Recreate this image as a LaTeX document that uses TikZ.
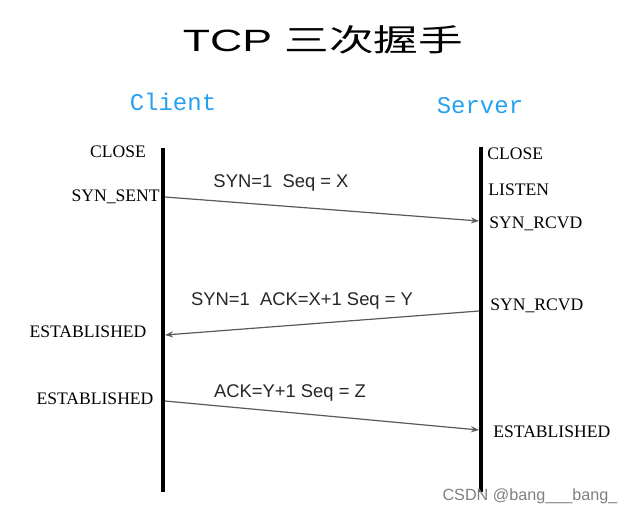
\documentclass[tikz,border=0pt]{standalone}
\usepackage{fontspec}
\setmainfont{Liberation Serif}
\setsansfont{Liberation Sans}
\setmonofont{Liberation Mono}
\newfontfamily\cjk{Noto Sans CJK SC}
\usetikzlibrary{arrows.meta}
\definecolor{hostblue}{RGB}{40,160,240}

\begin{document}
\begin{tikzpicture}[x=0.5pt,y=-0.5pt,
  heading/.style={font=\sffamily\fontsize{15.4}{17}\selectfont, inner sep=0pt},
  host/.style={font=\ttfamily\fontsize{12}{14}\selectfont, text=hostblue, inner sep=0pt},
  state/.style={font=\fontsize{8.8}{10}\selectfont, inner sep=0pt},
  msg/.style={font=\sffamily\fontsize{9.2}{11}\selectfont, text=black!85, inner sep=0pt},
  life/.style={line width=1.8pt},
  pkt/.style={draw=black!65, line width=0.6pt, -{Stealth[length=4pt,width=3pt]}}]
\useasboundingbox (0,0) rectangle (633,516);
% title and hosts
\node[heading] (title) at (323,40) {\scalebox{1.45}[1]{TCP \cjk 三次握手}};
\node[host] (client) at (173,102) {Client};
\node[host] (server) at (480,106) {Server};
% lifelines
\coordinate (ctop) at (163,148);
\coordinate (cbot) at (163,492);
\coordinate (stop) at (481,147);
\coordinate (sbot) at (481,492);
\draw[life] (ctop) -- (cbot);
\draw[life] (stop) -- (sbot);
% client states
\node[state] (cclose) at (118,152) {CLOSE};
\node[state, anchor=east] (csent) at (160,197) {SYN\_SENT};
\node[state] (cest1) at (88,332) {ESTABLISHED};
\node[state] (cest2) at (95,399) {ESTABLISHED};
% server states
\node[state, anchor=west] (sclose) at (487,154) {CLOSE};
\node[state, anchor=west] (slisten) at (488,190) {LISTEN};
\node[state, anchor=west] (srcvd1) at (489,224) {SYN\_RCVD};
\node[state, anchor=west] (srcvd2) at (490,306) {SYN\_RCVD};
\node[state, anchor=west] (sest) at (493,432) {ESTABLISHED};
% packets
\coordinate (p1a) at (165,197);
\coordinate (p1b) at (479,221);
\coordinate (p2a) at (479,311);
\coordinate (p2b) at (165,335);
\coordinate (p3a) at (165,401);
\coordinate (p3b) at (479,430);
\draw[pkt] (p1a) -- (p1b);
\draw[pkt] (p2a) -- (p2b);
\draw[pkt] (p3a) -- (p3b);
\node[msg] (syn) at (281,183) {SYN=1\ \ Seq = X};
\node[msg] (synack) at (302,301) {SYN=1\ \ ACK=X+1 Seq = Y};
\node[msg] (ack) at (290,393) {ACK=Y+1 Seq = Z};
% watermark
\node[font=\sffamily\fontsize{8.1}{10}\selectfont, text=black!50, inner sep=0pt] (mark) at (530,496) {CSDN @bang\_\_\_bang\_};
\end{tikzpicture}
\end{document}
